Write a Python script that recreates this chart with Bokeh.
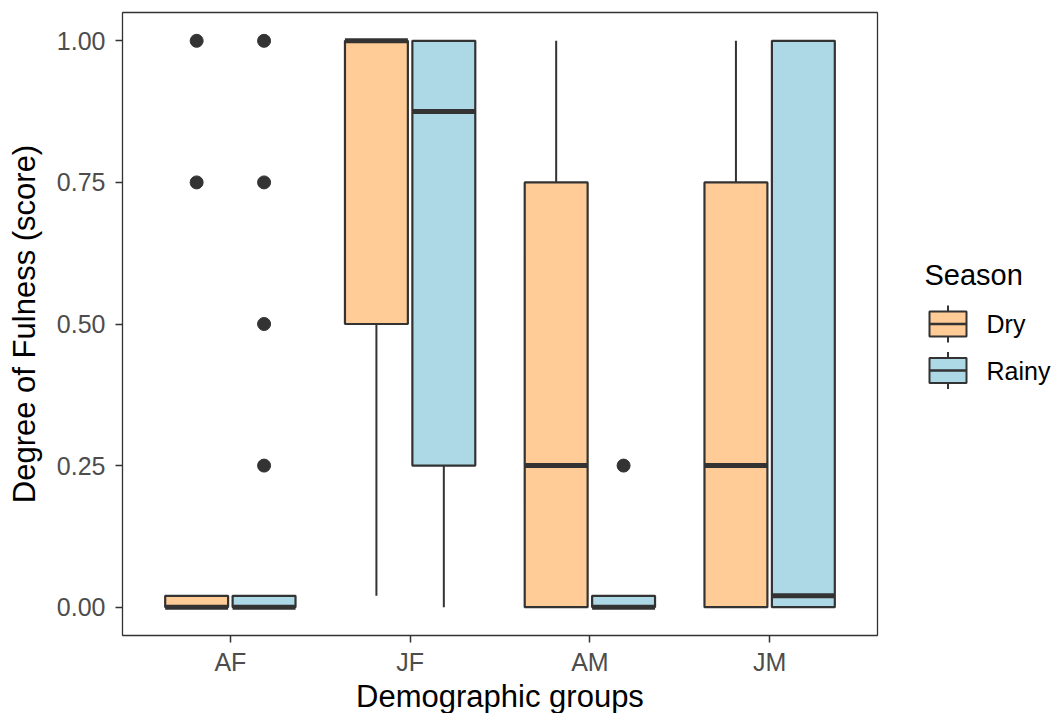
from bokeh.plotting import figure
from bokeh.layouts import row
from bokeh.models import Range1d, FixedTicker, ColumnDataSource, NumeralTickFormatter
from bokeh.core.properties import value
from bokeh.embed import file_html
from bokeh.resources import INLINE

groups = ["AF", "JF", "AM", "JM"]
seasons = ["Dry", "Rainy"]

dry_q1 = [0.0, 0.5, 0.0, 0.0]
dry_med = [0.0, 1.0, 0.25, 0.25]
dry_q3 = [0.02, 1.0, 0.75, 0.75]
dry_lo = [0.0, 0.02, 0.0, 0.0]
dry_hi = [0.02, 1.0, 1.0, 1.0]

rainy_q1 = [0.0, 0.25, 0.0, 0.0]
rainy_med = [0.0, 0.875, 0.0, 0.02]
rainy_q3 = [0.02, 1.0, 0.02, 1.0]
rainy_lo = [0.0, 0.0, 0.0, 0.0]
rainy_hi = [0.02, 1.0, 0.02, 1.0]

dry_out_group = ["AF", "AF"]
dry_out_val = [1.0, 0.75]
rainy_out_group = ["AF", "AF", "AF", "AF", "AM"]
rainy_out_val = [1.0, 0.75, 0.5, 0.25, 0.25]

fill_colors = {"Dry": "#FFCB96", "Rainy": "#ADD8E6"}
offsets = {"Dry": -0.1875, "Rainy": 0.1875}
BOX_W = 0.35
EDGE = "#333333"
FONT = "Liberation Sans"

stats = {
    "Dry": (dry_q1, dry_med, dry_q3, dry_lo, dry_hi, dry_out_group, dry_out_val),
    "Rainy": (rainy_q1, rainy_med, rainy_q3, rainy_lo, rainy_hi, rainy_out_group, rainy_out_val),
}

FRAME_L, FRAME_T, FRAME_W, FRAME_H = 122, 12, 755, 623

p = figure(frame_width=FRAME_W, frame_height=FRAME_H,
           x_range=Range1d(0.4, 4.6), y_range=Range1d(-0.05, 1.05),
           output_backend="svg", toolbar_location=None,
           min_border_left=FRAME_L, min_border_right=2,
           min_border_top=FRAME_T, min_border_bottom=60)
p.background_fill_color = "white"
p.border_fill_color = "white"
p.xgrid.visible = False
p.ygrid.visible = False
p.outline_line_color = EDGE
p.outline_line_width = 1.3

for s in seasons:
    q1, med, q3, lo, hi, og, ov = stats[s]
    xs = [i + 1 + offsets[s] for i in range(len(groups))]
    src = ColumnDataSource(dict(x=xs, q1=q1, med=med, q3=q3, lo=lo, hi=hi,
                                x0=[x - BOX_W / 2 for x in xs],
                                x1=[x + BOX_W / 2 for x in xs]))
    p.segment(x0="x", x1="x", y0="lo", y1="q1", source=src, line_color=EDGE, line_width=2)
    p.segment(x0="x", x1="x", y0="q3", y1="hi", source=src, line_color=EDGE, line_width=2)
    p.vbar(x="x", width=BOX_W, bottom="q1", top="q3", source=src,
           fill_color=fill_colors[s], line_color=EDGE, line_width=2.2)
    p.segment(x0="x0", x1="x1", y0="med", y1="med", source=src,
              line_color=EDGE, line_width=5, line_cap="butt")
    ox = [groups.index(g) + 1 + offsets[s] for g in og]
    p.scatter(x=ox, y=ov, size=13, fill_color=EDGE, line_color=EDGE)

p.xaxis.ticker = FixedTicker(ticks=[i + 1 for i in range(len(groups))])
p.xaxis.major_label_overrides = {i + 1: g for i, g in enumerate(groups)}
p.yaxis.ticker = FixedTicker(ticks=[0, 0.25, 0.5, 0.75, 1.0])
p.yaxis.formatter = NumeralTickFormatter(format="0.00")

for ax in (p.xaxis, p.yaxis):
    ax.axis_line_color = None
    ax.minor_tick_line_color = None
    ax.major_tick_in = 0
    ax.major_tick_out = 7
    ax.major_tick_line_color = EDGE
    ax.major_tick_line_width = 1.5
    ax.major_label_text_font = FONT
    ax.major_label_text_font_size = "25px"
    ax.major_label_text_color = "#4D4D4D"
    ax.axis_label_text_font = FONT
    ax.axis_label_text_font_size = "31px"
    ax.axis_label_text_font_style = "normal"
    ax.axis_label_text_color = "black"

p.xaxis.major_label_standoff = 5
p.yaxis.major_label_standoff = 10
p.xaxis.axis_label = "Demographic groups"
p.yaxis.axis_label = "Degree of Fulness (score)"
p.xaxis.axis_label_standoff = 0
p.yaxis.axis_label_standoff = 12

# ---- legend panel (ggplot-style keys); its frame shares the plot frame's rows,
# and its ranges are in page pixels ----
LEG_X0, LEG_W = FRAME_L + FRAME_W + 2, 174
leg = figure(frame_width=LEG_W, frame_height=FRAME_H,
             x_range=Range1d(LEG_X0, LEG_X0 + LEG_W),
             y_range=Range1d(FRAME_T + FRAME_H, FRAME_T),
             output_backend="svg", toolbar_location=None,
             x_axis_type=None, y_axis_type=None,
             min_border_left=0, min_border_right=0,
             min_border_top=FRAME_T, min_border_bottom=0)
leg.outline_line_color = None
leg.background_fill_color = "white"
leg.border_fill_color = "white"
leg.xgrid.visible = False
leg.ygrid.visible = False

KEY_L, KEY_W = 929, 37
KEY_H, WHISK = 25, 6
KEY_Y0, KEY_STEP = 323.5, 46.5
kc = KEY_L + KEY_W / 2
ky = [KEY_Y0 + i * KEY_STEP for i in range(len(seasons))]
ksrc = ColumnDataSource(dict(
    y=ky, top=[y - KEY_H / 2 for y in ky], bot=[y + KEY_H / 2 for y in ky],
    wt=[y - KEY_H / 2 - WHISK for y in ky], wb=[y + KEY_H / 2 + WHISK for y in ky],
    fill=[fill_colors[s] for s in seasons], label=seasons))
leg.segment(x0=kc, x1=kc, y0="wt", y1="top", source=ksrc, line_color=EDGE, line_width=2)
leg.segment(x0=kc, x1=kc, y0="bot", y1="wb", source=ksrc, line_color=EDGE, line_width=2)
leg.quad(left=KEY_L, right=KEY_L + KEY_W, top="top", bottom="bot", source=ksrc,
         fill_color="fill", line_color=EDGE, line_width=2)
leg.segment(x0=KEY_L, x1=KEY_L + KEY_W, y0="y", y1="y", source=ksrc,
            line_color=EDGE, line_width=2.5)
leg.text(x=986, y="y", text="label", source=ksrc, text_font=value(FONT),
         text_font_size="25px", text_color="black", text_baseline="middle")
leg.text(x=[924], y=[274], text=["Season"], text_font=value(FONT),
         text_font_size="29px", text_color="black", text_baseline="middle")

layout = row(p, leg)
open("out.html", "w").write(file_html(layout, INLINE))
